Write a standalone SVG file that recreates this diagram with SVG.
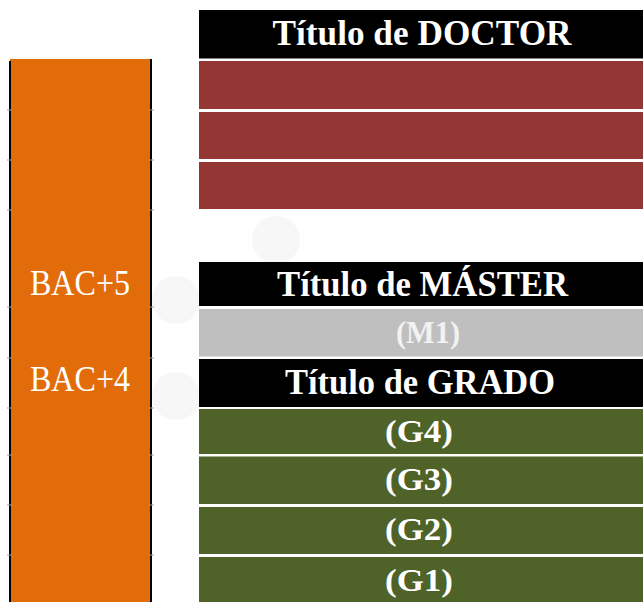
<svg xmlns="http://www.w3.org/2000/svg" width="643" height="602" viewBox="0 0 643 602">
<style>
.t{font-family:"Liberation Serif","DejaVu Serif",serif;font-weight:bold;fill:#fff;text-anchor:middle}
.b{font-family:"Liberation Serif","DejaVu Serif",serif;fill:#fff;text-anchor:middle;font-size:35px}
.blk{fill:#000}
.red{fill:#943634}
.grn{fill:#4f6228}
.tick{stroke:#a0a0a0;stroke-width:1}
</style>
<rect width="643" height="602" fill="#fff"/>
<g id="watermark" fill="#f7f7f7">
<circle cx="276" cy="240" r="24"/>
<circle cx="176" cy="300" r="24"/>
<circle cx="176" cy="396" r="24"/>
</g>
<g id="scale">
<rect x="10" y="59" width="141" height="543" fill="#e36c0a"/>
<line x1="10" y1="61" x2="10" y2="602" stroke="#000" stroke-width="2"/>
<line x1="151" y1="59" x2="151" y2="602" stroke="#000" stroke-width="2"/>
<g class="tick">
<line x1="7" y1="110" x2="12" y2="110"/><line x1="149" y1="110" x2="154" y2="110"/>
<line x1="7" y1="160" x2="12" y2="160"/><line x1="149" y1="160" x2="154" y2="160"/>
<line x1="7" y1="210" x2="12" y2="210"/><line x1="149" y1="210" x2="154" y2="210"/>
<line x1="7" y1="307" x2="12" y2="307"/><line x1="149" y1="307" x2="154" y2="307"/>
<line x1="7" y1="358" x2="12" y2="358"/><line x1="149" y1="358" x2="154" y2="358"/>
<line x1="7" y1="408" x2="12" y2="408"/><line x1="149" y1="408" x2="154" y2="408"/>
<line x1="7" y1="455" x2="12" y2="455"/><line x1="149" y1="455" x2="154" y2="455"/>
<line x1="7" y1="505" x2="12" y2="505"/><line x1="149" y1="505" x2="154" y2="505"/>
<line x1="7" y1="555" x2="12" y2="555"/><line x1="149" y1="555" x2="154" y2="555"/>
</g>
<text class="b" x="80" y="295" textLength="100" lengthAdjust="spacingAndGlyphs">BAC+5</text>
<text class="b" x="80" y="391" textLength="100" lengthAdjust="spacingAndGlyphs">BAC+4</text>
</g>
<g id="doctor">
<rect class="blk" x="199" y="10" width="444" height="48.5"/>
<text class="t" x="422" y="45" font-size="35" textLength="299" lengthAdjust="spacingAndGlyphs">Título de DOCTOR</text>
</g>
<g id="d3"><rect class="red" x="199" y="61" width="444" height="48"/></g>
<g id="d2"><rect class="red" x="199" y="112" width="444" height="47"/></g>
<g id="d1"><rect class="red" x="199" y="162" width="444" height="47"/></g>
<g id="master">
<rect class="blk" x="199" y="262" width="444" height="44"/>
<text class="t" x="422.5" y="295.5" font-size="35" textLength="291" lengthAdjust="spacingAndGlyphs">Título de MÁSTER</text>
</g>
<g id="m1">
<rect x="199" y="309" width="444" height="47.5" fill="#bfbfbf"/>
<text class="t" x="428" y="342.5" font-size="32" style="fill:#f2f2f2" textLength="64" lengthAdjust="spacingAndGlyphs">(M1)</text>
</g>
<g id="grado">
<rect class="blk" x="199" y="359" width="444" height="48"/>
<text class="t" x="420" y="393.5" font-size="35" textLength="270" lengthAdjust="spacingAndGlyphs">Título de GRADO</text>
</g>
<g id="g4">
<rect class="grn" x="199" y="409" width="444" height="45"/>
<text class="t" x="419" y="441.5" font-size="32" textLength="68" lengthAdjust="spacingAndGlyphs">(G4)</text>
</g>
<g id="g3">
<rect class="grn" x="199" y="456.5" width="444" height="47.5"/>
<text class="t" x="419" y="490" font-size="32" textLength="68" lengthAdjust="spacingAndGlyphs">(G3)</text>
</g>
<g id="g2">
<rect class="grn" x="199" y="507" width="444" height="47"/>
<text class="t" x="419" y="540" font-size="32" textLength="68" lengthAdjust="spacingAndGlyphs">(G2)</text>
</g>
<g id="g1">
<rect class="grn" x="199" y="557" width="444" height="45"/>
<text class="t" x="419" y="591" font-size="32" textLength="68" lengthAdjust="spacingAndGlyphs">(G1)</text>
</g>
<g id="connectors"/>
</svg>
